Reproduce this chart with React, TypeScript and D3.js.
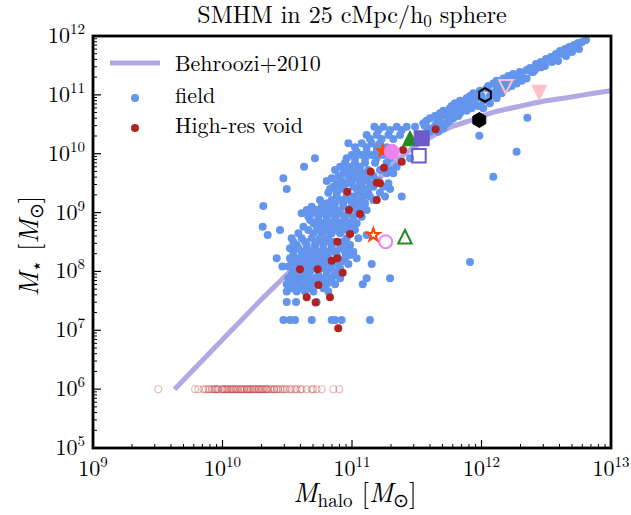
import React from 'react';
import * as d3 from 'd3';

const W = 631;
const H = 515;
const PLOT = { left: 93, right: 611, top: 36, bottom: 448 };

// log10(M_halo), log10(M_star) of field galaxies
const fieldLog: [number, number][] = [
  [11.173, 10.46], [11.242, 10.46], [11.345, 10.46], [11.422, 10.46], [11.487, 10.46],
  [11.113, 10.318], [11.191, 10.318], [11.281, 10.318], [11.371, 10.318],
  [10.972, 10.177], [11.075, 10.177], [11.152, 10.177], [11.216, 10.177],
  [11.036, 10.035], [11.113, 10.035], [11.191, 10.035],
  [10.714, 9.922], [10.959, 9.922], [11.023, 9.922], [11.101, 9.922], [11.191, 9.922], [11.294, 9.922], [11.448, 9.922],
  [10.63, 9.78], [10.908, 9.78], [10.985, 9.78], [11.062, 9.78], [11.345, 9.78],
  [10.933, 9.667], [11.01, 9.667], [11.088, 9.667], [11.268, 9.667], [11.319, 9.667],
  [10.47, 9.582], [10.843, 9.582], [11.036, 9.582], [11.113, 9.582],
  [10.882, 9.497], [10.959, 9.497], [11.062, 9.497], [11.139, 9.497], [11.281, 9.497],
  [10.496, 9.401], [10.83, 9.401], [10.908, 9.401], [11.036, 9.401], [11.101, 9.401], [11.294, 9.401],
  [10.882, 9.271], [10.959, 9.271], [11.01, 9.271], [11.088, 9.271], [11.139, 9.271], [11.255, 9.271], [11.384, 9.271],
  [10.805, 9.157], [10.869, 9.157], [10.933, 9.157], [11.023, 9.157], [11.101, 9.157],
  [10.315, 9.112],
  [10.65, 9.044], [10.727, 9.044], [10.805, 9.044], [10.882, 9.044], [11.036, 9.044], [11.113, 9.044],
  [10.663, 8.931], [10.74, 8.931], [10.805, 8.931], [10.869, 8.931], [10.946, 8.931], [11.01, 8.931], [11.075, 8.931],
  [10.702, 8.818], [10.766, 8.818], [10.83, 8.818], [10.908, 8.818], [10.972, 8.818], [11.036, 8.818],
  [10.31, 8.761],
  [10.444, 8.704], [10.663, 8.704], [10.74, 8.704], [10.805, 8.704], [10.882, 8.704], [10.933, 8.704], [11.023, 8.704],
  [10.349, 8.619], [11.113, 8.619],
  [10.534, 8.563], [10.611, 8.563], [10.689, 8.563], [10.753, 8.563], [10.817, 8.563], [10.959, 8.563], [11.049, 8.563],
  [10.573, 8.449], [10.65, 8.449], [10.714, 8.449], [10.779, 8.449], [10.843, 8.449], [10.92, 8.449], [10.985, 8.449],
  [10.547, 8.336], [10.611, 8.336], [10.676, 8.336], [10.74, 8.336], [10.805, 8.336], [10.869, 8.336], [10.946, 8.336], [11.01, 8.336],
  [10.418, 8.223], [10.521, 8.223], [10.586, 8.223], [10.65, 8.223], [10.714, 8.223], [10.779, 8.223], [10.946, 8.223], [11.036, 8.223],
  [11.152, 8.127], [10.56, 8.127], [10.625, 8.127], [10.689, 8.127], [10.753, 8.127], [10.817, 8.127], [10.895, 8.127], [10.972, 8.127],
  [10.462, 8.082], [10.509, 8.082],
  [10.547, 7.996], [10.625, 7.996], [10.676, 7.996], [10.805, 7.996], [10.869, 7.996],
  [10.509, 7.883], [10.573, 7.883], [10.645, 7.883], [10.714, 7.883], [10.779, 7.883], [10.843, 7.883], [10.908, 7.883], [11.113, 7.883], [11.294, 7.883],
  [10.496, 7.781], [10.56, 7.781], [10.625, 7.781], [10.689, 7.781], [10.805, 7.781], [10.869, 7.781], [11.083, 7.781],
  [10.496, 7.657], [10.573, 7.657], [10.637, 7.657], [10.702, 7.657], [10.817, 7.657],
  [10.496, 7.481], [10.568, 7.481], [10.727, 7.481],
  [10.47, 7.175], [10.521, 7.175], [10.56, 7.175], [10.689, 7.175], [10.843, 7.175], [10.869, 7.175], [10.92, 7.175], [11.139, 7.175],
  // denser interior of the main cloud
  [11.204, 10.403], [11.294, 10.403], [11.384, 10.403],
  [11.139, 10.25], [11.229, 10.25], [11.319, 10.25],
  [11.023, 10.109], [11.113, 10.109], [11.191, 10.109], [11.268, 10.109],
  [10.998, 9.978], [11.075, 9.978], [11.152, 9.978], [11.242, 9.978],
  [10.946, 9.848], [11.023, 9.848], [11.101, 9.848], [11.178, 9.848], [11.268, 9.848],
  [10.869, 9.724], [10.959, 9.724], [11.036, 9.724], [11.126, 9.724], [11.216, 9.724], [11.306, 9.724],
  [10.895, 9.622], [10.972, 9.622], [11.062, 9.622], [11.165, 9.622],
  [10.805, 9.537], [10.92, 9.537], [10.998, 9.537], [11.088, 9.537], [11.204, 9.537],
  [10.856, 9.44], [10.933, 9.44], [11.01, 9.44], [11.075, 9.44], [11.165, 9.44], [11.242, 9.44],
  [10.817, 9.338], [10.882, 9.338], [10.959, 9.338], [11.049, 9.338], [11.126, 9.338], [11.216, 9.338],
  [10.753, 9.214], [10.843, 9.214], [10.92, 9.214], [10.985, 9.214], [11.062, 9.214], [11.165, 9.214],
  [10.689, 9.101], [10.766, 9.101], [10.843, 9.101], [10.933, 9.101], [10.998, 9.101], [11.075, 9.101],
  [10.611, 8.988], [10.689, 8.988], [10.766, 8.988], [10.843, 8.988], [10.908, 8.988], [10.972, 8.988], [11.049, 8.988],
  [10.676, 8.874], [10.74, 8.874], [10.805, 8.874], [10.869, 8.874], [10.946, 8.874], [11.01, 8.874],
  [10.625, 8.761], [10.727, 8.761], [10.792, 8.761], [10.856, 8.761], [10.92, 8.761], [10.985, 8.761],
  [10.586, 8.648], [10.702, 8.648], [10.766, 8.648], [10.843, 8.648], [10.908, 8.648], [10.985, 8.648],
  [10.547, 8.506], [10.637, 8.506], [10.727, 8.506], [10.792, 8.506], [10.856, 8.506], [10.933, 8.506],
  [10.521, 8.393], [10.586, 8.393], [10.65, 8.393], [10.714, 8.393], [10.779, 8.393], [10.843, 8.393], [10.908, 8.393], [10.972, 8.393],
  [10.547, 8.28], [10.625, 8.28], [10.689, 8.28], [10.753, 8.28], [10.817, 8.28], [10.882, 8.28], [10.985, 8.28],
  [10.534, 8.178], [10.599, 8.178], [10.663, 8.178], [10.727, 8.178], [10.792, 8.178], [10.856, 8.178], [10.933, 8.178],
  [10.586, 8.053], [10.65, 8.053], [10.714, 8.053], [10.779, 8.053], [10.843, 8.053], [10.908, 8.053],
  [10.534, 7.94], [10.599, 7.94], [10.663, 7.94], [10.74, 7.94], [10.805, 7.94], [10.869, 7.94],
  [10.534, 7.826], [10.599, 7.826], [10.663, 7.826], [10.753, 7.826], [10.83, 7.826],
  [10.534, 7.713], [10.611, 7.713], [10.676, 7.713], [10.779, 7.713],
  // upper band
  [12.348, 11.422], [12.413, 11.422],
  [12.245, 11.354], [12.31, 11.354],
  [12.168, 11.28], [12.22, 11.28], [12.348, 11.28],
  [12.091, 11.195], [12.143, 11.195], [12.271, 11.195],
  [12.04, 11.111], [12.117, 11.111], [12.194, 11.111],
  [11.937, 11.026], [12.078, 11.026], [12.155, 11.026],
  [11.885, 10.941], [11.962, 10.941], [12.117, 10.941],
  [11.795, 10.856], [11.859, 10.856], [11.937, 10.856], [12.065, 10.856],
  [11.756, 10.771], [11.834, 10.771], [11.924, 10.771], [12.014, 10.771],
  [11.679, 10.686], [11.756, 10.686], [11.834, 10.686],
  [11.602, 10.601], [11.679, 10.601], [11.782, 10.601],
  [11.551, 10.516], [11.653, 10.516], [11.731, 10.516],
  [11.589, 10.431], [11.705, 10.431],
  [12.297, 11.388], [12.387, 11.388],
  [12.207, 11.32], [12.271, 11.32],
  [12.117, 11.241], [12.194, 11.241], [12.31, 11.241],
  [12.052, 11.15], [12.168, 11.15], [12.233, 11.15],
  [11.988, 11.071], [12.117, 11.071],
  [11.911, 10.98], [12.001, 10.98], [12.065, 10.98],
  [11.834, 10.901], [11.924, 10.901], [12.014, 10.901],
  [11.769, 10.81], [11.885, 10.81], [11.975, 10.81],
  [11.705, 10.731], [11.795, 10.731], [11.885, 10.731],
  [11.641, 10.641], [11.731, 10.641], [11.821, 10.641],
  [11.576, 10.561], [11.679, 10.561], [11.756, 10.561],
  [11.563, 10.471], [11.641, 10.471], [11.679, 10.471],
  [11.602, 10.374], [11.666, 10.374],
  [12.354, 10.612], [11.983, 10.306], [12.271, 10.035], [12.091, 9.61], [11.911, 8.16],
  [12.375, 11.456], [12.421, 11.524], [12.459, 11.558], [12.498, 11.609], [12.537, 11.643],
  [12.575, 11.694], [12.606, 11.745], [12.645, 11.779], [12.676, 11.813], [12.714, 11.847],
  [12.745, 11.881], [12.776, 11.898], [12.807, 11.932], [12.49, 11.49], [12.591, 11.575],
  [12.699, 11.728], [12.297, 11.371],
  [12.398, 11.388], [12.544, 11.558], [12.653, 11.66], [12.753, 11.779], [12.46, 11.47], [12.62, 11.7],
];

// log10(M_halo), log10(M_star) of resolved high-res void galaxies
const voidLog: [number, number][] = [
  [11.646, 10.415], [11.394, 10.063], [11.384, 9.864], [11.247, 9.762], [11.144, 9.695],
  [11.191, 9.508], [11.216, 9.497], [10.964, 9.355], [11.191, 9.214], [10.977, 9.044],
  [11.062, 8.976], [10.985, 8.636], [10.887, 8.505], [10.887, 8.223], [10.843, 8.182],
  [10.598, 8.036], [10.735, 8.036], [10.928, 7.979], [10.74, 7.77], [10.65, 7.56],
  [10.83, 7.56], [10.719, 7.47], [10.894, 7.034],
];

// unresolved void haloes, plotted at M_star = 1e6
const voidUnresolvedLogMhalo: number[] = [
  9.504, 9.788, 9.813, 9.852, 9.89, 9.9, 9.917, 9.93, 9.942, 9.96, 9.968, 9.994, 10.0,
  10.019, 10.037, 10.05, 10.063, 10.08, 10.089, 10.109, 10.12, 10.135, 10.15, 10.161,
  10.187, 10.2, 10.212, 10.243, 10.25, 10.277, 10.29, 10.303, 10.32, 10.336, 10.35,
  10.367, 10.398, 10.4, 10.431, 10.465, 10.496, 10.534, 10.573, 10.612, 10.65, 10.689,
  10.727, 10.766, 10.856, 10.902,
  9.87, 9.95, 10.01, 10.03, 10.07, 10.1, 10.14, 10.17, 10.19, 10.22, 10.23, 10.26,
  10.28, 10.31, 10.34, 10.38, 10.42, 10.45, 10.48, 10.52, 10.56, 10.6, 10.7,
];
const voidUnresolvedLogMstar = 6;

// Behroozi+2010 relation
const behrooziLog: [number, number][] = [
  [9.63, 6.0], [9.85, 6.5], [10.07, 7.0], [10.29, 7.5], [10.52, 8.0], [10.74, 8.5],
  [10.96, 9.0], [11.17, 9.5], [11.41, 10.0], [11.58, 10.25], [11.76, 10.45], [11.95, 10.59],
  [12.07, 10.69], [12.26, 10.79], [12.45, 10.88], [12.68, 10.96], [12.88, 11.03], [13.0, 11.07],
];

// individual zoom haloes: filled and open counterparts
const zoomLogMhalo = [11.983, 12.027, 12.446, 12.187, 11.448, 11.409, 11.538, 11.517, 11.307, 11.26, 11.237, 11.165];
const zoomLogMstar = [10.573, 10.998, 11.037, 11.139, 10.262, 8.59, 10.262, 9.966, 10.034, 8.505, 10.046, 8.619];
const zoomShapes = ['hexagon', 'hexagon', 'triDown', 'triDown', 'triUp', 'triUp', 'square', 'square', 'circle', 'circle', 'star', 'star'];
const zoomColors = ['#000000', '#000000', '#ffc0cb', '#ffc0cb', '#228b22', '#228b22', '#6a5acd', '#6a5acd', '#ee82ee', '#ee82ee', '#ff4500', '#ff4500'];
const zoomFilled = [true, false, true, false, true, false, true, false, true, false, true, false];
const zoomDrawOrder = [10, 4, 6, 8, 0, 1, 2, 3, 5, 7, 9, 11];

const xTickExps = [9, 10, 11, 12, 13];
const yTickExps = [5, 6, 7, 8, 9, 10, 11, 12];
const legendLabels = ['Behroozi+2010', 'field', 'High-res void'];

const FONT = '"Latin Modern Roman", "Liberation Serif", serif';
const BLUE = '#6495ed';
const RED = '#b22222';
const LINE = '#b3a8e4';

function shapePath(shape: string, s: number): string {
  const h = s / 2;
  if (shape === 'hexagon') {
    const pts = d3.range(6).map((k) => {
      const a = (-90 + 60 * k) * Math.PI / 180;
      return [h * Math.cos(a), h * Math.sin(a)];
    });
    return 'M' + pts.map((p) => p.join(',')).join('L') + 'Z';
  }
  if (shape === 'triUp') return `M0,${-h}L${h},${h}L${-h},${h}Z`;
  if (shape === 'triDown') return `M0,${h}L${h},${-h}L${-h},${-h}Z`;
  if (shape === 'square') return `M${-h},${-h}L${h},${-h}L${h},${h}L${-h},${h}Z`;
  if (shape === 'star') {
    const pts = d3.range(10).map((k) => {
      const r = k % 2 === 0 ? h : h * 0.382;
      const a = (-90 + 36 * k) * Math.PI / 180;
      return [r * Math.cos(a), r * Math.sin(a)];
    });
    return 'M' + pts.map((p) => p.join(',')).join('L') + 'Z';
  }
  return '';
}

const tStyle = { fontFamily: FONT };

export default function App() {
  const x = d3.scaleLog().domain([1e9, 1e13]).range([PLOT.left, PLOT.right]);
  const y = d3.scaleLog().domain([1e5, 1e12]).range([PLOT.bottom, PLOT.top]);
  const px = (l: number) => x(Math.pow(10, l));
  const py = (l: number) => y(Math.pow(10, l));

  const line = d3.line<[number, number]>()
    .x((d) => px(d[0]))
    .y((d) => py(d[1]))
    .curve(d3.curveMonotoneX);

  const xMinor: number[] = [];
  xTickExps.slice(0, -1).forEach((e) => {
    for (let m = 2; m <= 9; m++) xMinor.push(m * Math.pow(10, e));
  });
  const yMinor: number[] = [];
  yTickExps.slice(0, -1).forEach((e) => {
    for (let m = 2; m <= 9; m++) yMinor.push(m * Math.pow(10, e));
  });

  return (
    <svg width={W} height={H} style={{ position: 'absolute', left: 0, top: 0, background: '#fff' }}>
      <rect x={0} y={0} width={W} height={H} fill="#fff" />
      {/* Title */}
      <text x={(PLOT.left + PLOT.right) / 2} y={23} fontSize={24} textAnchor="middle" style={tStyle} fill="#000">
        SMHM in 25 cMpc/h<tspan fontSize={17} dy={4}>0</tspan><tspan dy={-4}> sphere</tspan>
      </text>

      {/* Behroozi curve */}
      <path d={line(behrooziLog) || ''} fill="none" stroke={LINE} strokeWidth={5} />

      {/* unresolved void haloes */}
      {voidUnresolvedLogMhalo.map((l, i) => (
        <circle key={'u' + i} cx={px(l)} cy={py(voidUnresolvedLogMstar)} r={3.4} fill="none" stroke={RED} strokeOpacity={0.3} strokeWidth={1.2} />
      ))}

      {/* field */}
      {fieldLog.map((d, i) => (
        <circle key={'f' + i} cx={px(d[0])} cy={py(d[1])} r={4} fill={BLUE} />
      ))}
      {/* void */}
      {voidLog.map((d, i) => (
        <circle key={'v' + i} cx={px(d[0])} cy={py(d[1])} r={4} fill={RED} />
      ))}

      {/* zoom haloes */}
      {zoomDrawOrder.map((i) => {
        const cx = px(zoomLogMhalo[i]);
        const cy = py(zoomLogMstar[i]);
        const filled = zoomFilled[i];
        const c = zoomColors[i];
        const shape = zoomShapes[i];
        const size = filled ? 15 : 13.5;
        if (shape === 'circle') {
          return (
            <circle key={'z' + i} cx={cx} cy={cy} r={filled ? 7.5 : 6.5}
              fill={filled ? c : 'none'} stroke={c} strokeWidth={filled ? 1 : 2} />
          );
        }
        return (
          <path key={'z' + i} transform={`translate(${cx},${cy})`} d={shapePath(shape, size)}
            fill={filled ? c : 'none'} stroke={c} strokeWidth={filled ? 1 : 2} strokeLinejoin="miter" />
        );
      })}

      {/* ticks */}
      {xMinor.map((v, i) => (
        <line key={'xm' + i} x1={x(v)} x2={x(v)} y1={PLOT.bottom} y2={PLOT.bottom - 4} stroke="#000" strokeWidth={1} />
      ))}
      {xTickExps.map((e) => (
        <line key={'xM' + e} x1={x(Math.pow(10, e))} x2={x(Math.pow(10, e))} y1={PLOT.bottom} y2={PLOT.bottom - 8} stroke="#000" strokeWidth={1.2} />
      ))}
      {yMinor.map((v, i) => (
        <line key={'ym' + i} x1={PLOT.left} x2={PLOT.left + 4} y1={y(v)} y2={y(v)} stroke="#000" strokeWidth={1} />
      ))}
      {yTickExps.map((e) => (
        <line key={'yM' + e} x1={PLOT.left} x2={PLOT.left + 8} y1={y(Math.pow(10, e))} y2={y(Math.pow(10, e))} stroke="#000" strokeWidth={1.2} />
      ))}

      {/* frame */}
      <rect x={PLOT.left} y={PLOT.top} width={PLOT.right - PLOT.left} height={PLOT.bottom - PLOT.top}
        fill="none" stroke="#000" strokeWidth={2.8} />

      {/* tick labels */}
      {xTickExps.map((e) => (
        <text key={'xl' + e} x={x(Math.pow(10, e))} y={476} textAnchor="middle" fontSize={22} style={tStyle} fill="#000">
          10<tspan fontSize={15} dy={-9}>{e}</tspan>
        </text>
      ))}
      {yTickExps.map((e) => (
        <text key={'yl' + e} x={85} y={y(Math.pow(10, e)) + 7} textAnchor="end" fontSize={22} style={tStyle} fill="#000">
          10<tspan fontSize={15} dy={-9}>{e}</tspan>
        </text>
      ))}

      {/* axis labels */}
      <text x={355} y={502} textAnchor="middle" fontSize={27} style={tStyle} fill="#000">
        <tspan fontStyle="italic">M</tspan>
        <tspan fontSize={19} dy={5}>halo</tspan>
        <tspan dy={-5}> [</tspan>
        <tspan fontStyle="italic">M</tspan>
        <tspan fontSize={19} dy={5}>⊙</tspan>
        <tspan dy={-5}>]</tspan>
      </text>
      <text transform="translate(38,246) rotate(-90)" textAnchor="middle" fontSize={27} style={tStyle} fill="#000">
        <tspan fontStyle="italic">M</tspan>
        <tspan fontSize={19} dy={5}>⋆</tspan>
        <tspan dy={-5}> [</tspan>
        <tspan fontStyle="italic">M</tspan>
        <tspan fontSize={19} dy={5}>⊙</tspan>
        <tspan dy={-5}>]</tspan>
      </text>

      {/* legend */}
      <line x1={110} x2={160} y1={63} y2={63} stroke={LINE} strokeWidth={5} />
      <circle cx={135} cy={98} r={4} fill={BLUE} />
      <circle cx={135} cy={128} r={4} fill={RED} />
      <text x={175} y={71} fontSize={22} style={tStyle} fill="#000">{legendLabels[0]}</text>
      <text x={175} y={103} fontSize={22} style={tStyle} fill="#000">{legendLabels[1]}</text>
      <text x={175} y={133} fontSize={22} style={tStyle} fill="#000">{legendLabels[2]}</text>
    </svg>
  );
}
